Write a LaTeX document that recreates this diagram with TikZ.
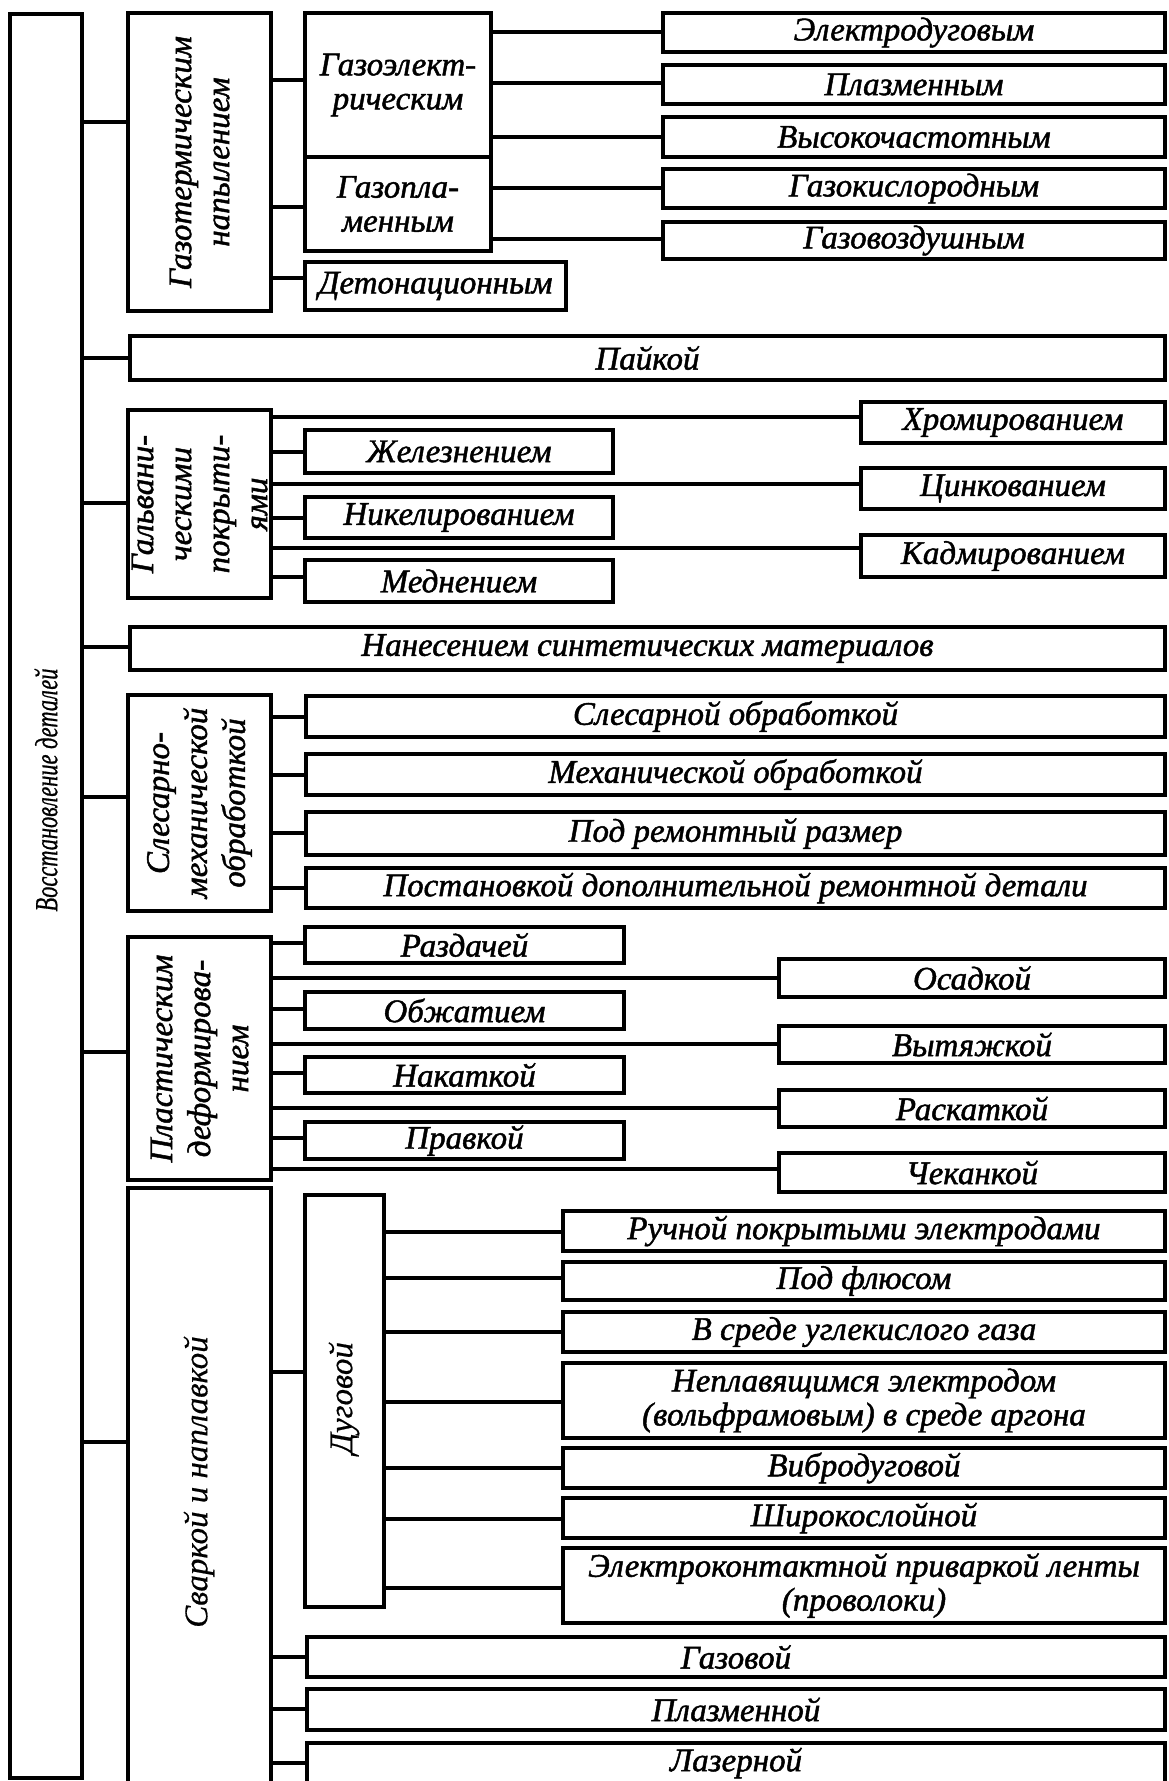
\documentclass[tikz,border=0pt]{standalone}
\usepackage{fontspec}
\setmainfont{Liberation Serif}
\newfontfamily\lbl{Liberation Serif Italic}[FakeBold=1.4]
\newfontfamily\lbllight{Liberation Serif Italic}[FakeBold=0.5]
\newfontfamily\lblroot{Liberation Serif Italic}[FakeStretch=0.7,FakeBold=0.6]

% \bx[options]{name}{x1}{y1}{x2}{y2}{text}: a framed box given by its corners
\newcommand\bx[7][]{\node[box,#1,minimum width={#5-#3},minimum height={#6-#4}] (#2) at ({(#3+#5)/2},{(#4+#6)/2}) {#7};}
% \conn{parent}{child}{y}: horizontal connector at height y
\newcommand\conn[3]{\draw[ln] (#1.east |- 0,#3) -- (#2.west |- 0,#3);}

\begin{document}
\begin{tikzpicture}[x=1pt,y=-1pt,
  ln/.style={line width=3.2pt},
  box/.style={draw,line width=3.2pt,inner sep=0pt,align=center,
    font=\lbl\fontsize{33}{34}\selectfont},
  vtxt/.style={rotate=90,inner sep=0pt,align=center,
    font=\lbl\fontsize{33}{38}\selectfont},
  vlight/.style={rotate=90,inner sep=0pt,align=center,
    font=\lbllight\fontsize{33}{38}\selectfont}]

\useasboundingbox (0,0) rectangle (1168,1781);
\fill[white] (0,0) rectangle (1168,1781);

% root
\bx{root}{10}{14}{82}{1778}{}
\node[vlight,font=\lblroot\fontsize{32}{34}\selectfont] (rootlbl) at (46,790) {Восстановление деталей};

% second level
\bx{gt}{128}{13}{271}{311}{}
\node[vtxt] (gtlbl) at (gt.center) {Газотермическим\\напылением};
\bx{pk}{130}{336}{1165}{380}{Пайкой}
\bx{gv}{128}{410}{271}{598}{}
\node[vtxt] (gvlbl) at (gv.center) {Гальвани-\\ческими\\покрыти-\\ями};
\bx{ns}{130}{627}{1165}{670}{Нанесением синтетических материалов}
\bx{sm}{128}{695}{271}{911}{}
\node[vtxt] (smlbl) at (sm.center) {Слесарно-\\механической\\обработкой};
\bx{pd}{128}{937}{271}{1180}{}
\node[vtxt] (pdlbl) at (pd.center) {Пластическим\\деформирова-\\нием};
\bx{sv}{128}{1188}{271}{1795}{}
\node[vlight] (svlbl) at (199,1482) {Сваркой и наплавкой};

\conn{root}{gt}{122}
\conn{root}{pk}{358}
\conn{root}{gv}{503}
\conn{root}{ns}{647}
\conn{root}{sm}{797}
\conn{root}{pd}{1052}
\conn{root}{sv}{1442}

% thermal spraying
\bx{ge}{305}{13}{491}{157}{Газоэлект-\\рическим}
\bx{gp}{305}{157}{491}{251}{Газопла-\\менным}
\bx{dt}{305}{262}{566}{310}{Детонационным}
\bx{ed}{663}{13}{1165}{52}{Электродуговым}
\bx{pl}{663}{65}{1165}{104}{Плазменным}
\bx{vc}{663}{117}{1165}{157}{Высокочастотным}
\bx{gk}{663}{169}{1165}{208}{Газокислородным}
\bx{gvz}{663}{222}{1165}{259}{Газовоздушным}
\conn{gt}{ge}{80}
\conn{gt}{gp}{207}
\conn{gt}{dt}{278}
\conn{ge}{ed}{32}
\conn{ge}{pl}{83}
\conn{ge}{vc}{137}
\conn{gp}{gk}{188}
\conn{gp}{gvz}{239}

% electroplating
\bx{zh}{305}{430}{613}{473}{Железнением}
\bx{nk}{305}{497}{613}{538}{Никелированием}
\bx{md}{305}{560}{613}{602}{Меднением}
\bx{hr}{861}{402}{1165}{443}{Хромированием}
\bx{cn}{861}{468}{1165}{509}{Цинкованием}
\bx{kd}{861}{535}{1165}{577}{Кадмированием}
\conn{gv}{hr}{417}
\conn{gv}{zh}{452}
\conn{gv}{cn}{484}
\conn{gv}{nk}{518}
\conn{gv}{kd}{548}
\conn{gv}{md}{577}

% machining
\bx{sl}{306}{696}{1165}{737}{Слесарной обработкой}
\bx{mh}{306}{754}{1165}{795}{Механической обработкой}
\bx{pr}{306}{812}{1165}{855}{Под ремонтный размер}
\bx{ps}{306}{868}{1165}{908}{Постановкой дополнительной ремонтной детали}
\conn{sm}{sl}{717}
\conn{sm}{mh}{775}
\conn{sm}{pr}{833}
\conn{sm}{ps}{888}

% plastic deformation
\bx{rz}{305}{927}{624}{963}{Раздачей}
\bx{ob}{305}{992}{624}{1029}{Обжатием}
\bx{nkt}{305}{1057}{624}{1093}{Накаткой}
\bx{prv}{305}{1122}{624}{1159}{Правкой}
\bx{os}{779}{959}{1165}{997}{Осадкой}
\bx{vt}{779}{1026}{1165}{1063}{Вытяжкой}
\bx{rs}{779}{1090}{1165}{1127}{Раскаткой}
\bx{ch}{779}{1153}{1165}{1192}{Чеканкой}
\conn{pd}{rz}{943}
\conn{pd}{os}{978}
\conn{pd}{ob}{1009}
\conn{pd}{vt}{1044}
\conn{pd}{nkt}{1073}
\conn{pd}{rs}{1108}
\conn{pd}{prv}{1138}
\conn{pd}{ch}{1169}

% welding and surfacing
\bx{dg}{305}{1195}{384}{1607}{}
\node[vlight] (dglbl) at (344,1398) {Дуговой};
\conn{sv}{dg}{1372}
\bx{rc}{563}{1211}{1165}{1251}{Ручной покрытыми электродами}
\bx{pf}{563}{1262}{1165}{1300}{Под флюсом}
\bx{vs}{563}{1312}{1165}{1352}{В среде углекислого газа}
\bx{ne}{563}{1363}{1165}{1438}{Неплавящимся электродом\\(вольфрамовым) в среде аргона}
\bx{vb}{563}{1448}{1165}{1488}{Вибродуговой}
\bx{sh}{563}{1498}{1165}{1538}{Широкослойной}
\bx{ek}{563}{1548}{1165}{1623}{Электроконтактной приваркой ленты\\(проволоки)}
\conn{dg}{rc}{1232}
\conn{dg}{pf}{1278}
\conn{dg}{vs}{1332}
\conn{dg}{ne}{1402}
\conn{dg}{vb}{1468}
\conn{dg}{sh}{1519}
\conn{dg}{ek}{1588}
\bx{gz}{307}{1637}{1165}{1677}{Газовой}
\bx{plz}{307}{1689}{1165}{1730}{Плазменной}
\bx{lz}{307}{1743}{1165}{1783}{Лазерной}
\conn{sv}{gz}{1657}
\conn{sv}{plz}{1709}
\conn{sv}{lz}{1763}

\end{tikzpicture}
\end{document}
